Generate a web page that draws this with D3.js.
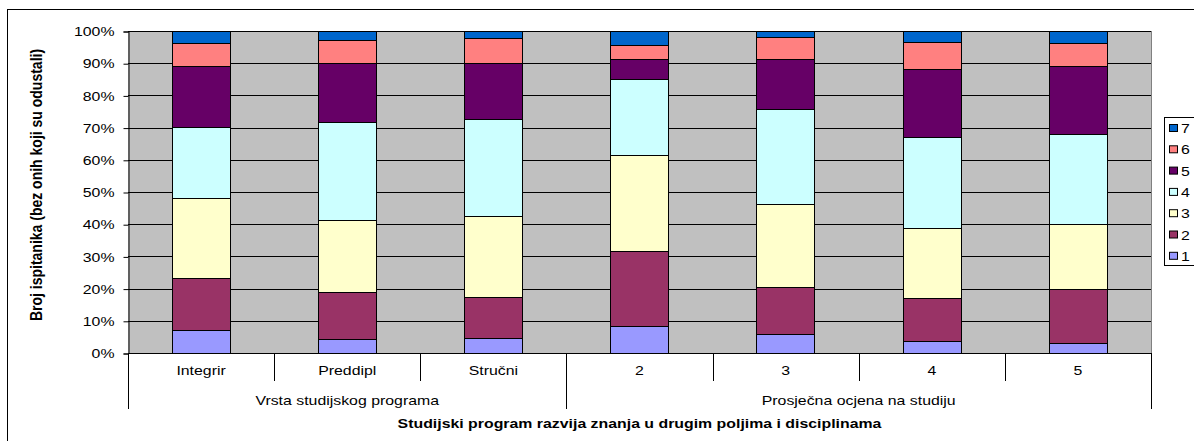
<!DOCTYPE html>
<html>
<head>
<meta charset="utf-8">
<script src="https://cdn.jsdelivr.net/npm/d3@7"></script>
<style>
  body { margin: 0; background: #fff; }
  svg { display: block; font-family: Arial, "Liberation Sans", sans-serif; }
</style>
</head>
<body>
<svg id="chart" width="1194" height="441"></svg>
<script>
const categories = ["Integrir", "Preddipl", "Stručni", "2", "3", "4", "5"];
const groups = [
  { label: "Vrsta studijskog programa", from: 0, to: 3 },
  { label: "Prosječna ocjena na studiju", from: 3, to: 7 }
];
const seriesNames = ["1", "2", "3", "4", "5", "6", "7"];
// percentage values per series, one per category
const s1 = [7.1, 4.2, 4.6, 8.4, 5.8, 3.8, 3.2];
const s2 = [16.1, 14.8, 12.9, 23.3, 14.8, 13.4, 16.8];
const s3 = [24.8, 22.3, 25.1, 29.8, 25.7, 21.6, 20.2];
const s4 = [22.1, 30.3, 30.0, 23.6, 29.4, 28.4, 27.8];
const s5 = [19.0, 18.4, 17.4, 6.3, 15.7, 20.9, 21.2];
const s6 = [7.1, 7.2, 7.7, 4.2, 6.6, 8.4, 7.0];
const s7 = [3.8, 2.8, 2.3, 4.4, 2.0, 3.5, 3.8];
const yTicks = [0, 0.1, 0.2, 0.3, 0.4, 0.5, 0.6, 0.7, 0.8, 0.9, 1.0];
const colors = ["#9999FF", "#993366", "#FFFFCC", "#CCFFFF", "#660066", "#FF8080", "#0066CC"];
const yTitle = "Broj ispitanika (bez onih koji su odustali)";
const xTitle = "Studijski program razvija znanja u drugim poljima i disciplinama";

const seriesData = [s1, s2, s3, s4, s5, s6, s7];
const table = categories.map((c, i) => {
  const row = { cat: c };
  const tot = d3.sum(seriesData, s => s[i]);
  seriesNames.forEach((n, k) => row[n] = seriesData[k][i] / tot);
  return row;
});
const stacked = d3.stack().keys(seriesNames)(table);

const svg = d3.select("#chart");
const pL = 128, pR = 1151, pT = 31, pB = 353;
const SX = 1.22; // horizontal text stretch as in the source rendering
const FS = 13;

function place(sel, fx, fy) {
  sel.attr("transform", (d, i) => `translate(${fx(d, i)},${fy(d, i)}) scale(${SX},1)`);
}

// outer border
svg.append("rect").attr("x", 7.5).attr("y", 9.5).attr("width", 1200).attr("height", 440)
  .attr("fill", "#fff").attr("stroke", "#000").attr("stroke-width", 1);

const x = d3.scaleBand().domain(categories).range([pL, pR]).paddingInner(0).paddingOuter(0);
const y = d3.scaleLinear().domain([0, 1]).range([pB, pT]);

// plot background
svg.append("rect").attr("x", pL).attr("y", pT).attr("width", pR - pL).attr("height", pB - pT)
  .attr("fill", "#C0C0C0");

// gridlines
svg.append("g").selectAll("line").data(yTicks.slice(1)).join("line")
  .attr("x1", pL).attr("x2", pR)
  .attr("y1", d => Math.round(y(d)) + 0.5).attr("y2", d => Math.round(y(d)) + 0.5)
  .attr("stroke", "#000").attr("stroke-width", 1);

// plot border right
svg.append("line").attr("x1", pR + 0.5).attr("x2", pR + 0.5).attr("y1", pT).attr("y2", pB)
  .attr("stroke", "#808080");

// bars
const barW = x.bandwidth() * 0.4;
svg.append("g").selectAll("g").data(stacked).join("g")
  .attr("fill", (d, i) => colors[i])
  .selectAll("rect").data(d => d).join("rect")
  .attr("x", d => Math.round(x(d.data.cat) + (x.bandwidth() - barW) / 2) + 0.5)
  .attr("width", Math.round(barW))
  .attr("y", d => Math.round(y(d[1])) + 0.5)
  .attr("height", d => Math.round(y(d[0])) - Math.round(y(d[1])))
  .attr("stroke", "#000").attr("stroke-width", 1);

// y axis
const yAxis = d3.axisLeft(y).tickValues(yTicks).tickFormat(d3.format(".0%")).tickSize(5).tickPadding(4);
const ya = svg.append("g").attr("transform", `translate(${pL + 0.5},0.5)`).call(yAxis);
ya.select(".domain").attr("stroke", "#000");
ya.selectAll(".tick line").attr("stroke", "#000");
ya.selectAll(".tick text").attr("font-size", FS).attr("fill", "#000")
  .attr("font-family", "Arial, 'Liberation Sans', sans-serif")
  .attr("x", 0).attr("transform", `translate(-14,0) scale(${SX},1)`);

// x axis line
svg.append("line").attr("x1", pL).attr("x2", pR + 1).attr("y1", pB + 0.5).attr("y2", pB + 0.5)
  .attr("stroke", "#000");

// category separators
const boundaries = d3.range(categories.length + 1).map(i => i === categories.length ? pR : x(categories[i]));
const groupBounds = new Set([0, ...groups.map(g => g.to)]);
svg.append("g").selectAll("line").data(boundaries.map((b, i) => ({ b, i }))).join("line")
  .attr("x1", d => Math.round(d.b) + 0.5).attr("x2", d => Math.round(d.b) + 0.5)
  .attr("y1", pB).attr("y2", d => groupBounds.has(d.i) ? 409 : 381)
  .attr("stroke", "#000");

// category labels
svg.append("g").selectAll("text").data(categories).join("text")
  .attr("text-anchor", "middle").attr("font-size", FS).attr("fill", "#000")
  .call(place, d => x(d) + x.bandwidth() / 2, () => 375)
  .text(d => d);

// group labels
svg.append("g").selectAll("text").data(groups).join("text")
  .attr("text-anchor", "middle").attr("font-size", FS).attr("fill", "#000")
  .call(place, d => (boundaries[d.from] + boundaries[d.to]) / 2, () => 405)
  .text(d => d.label);

// x title
svg.append("text").datum(xTitle)
  .attr("text-anchor", "middle").attr("font-size", FS).attr("font-weight", "bold")
  .call(place, () => (pL + pR) / 2, () => 428)
  .text(d => d);

// y title
svg.append("text").attr("transform", `translate(42,${(pT + pB) / 2 - 7}) rotate(-90) scale(1,1.12)`)
  .attr("text-anchor", "middle").attr("font-size", 14).attr("font-weight", "bold")
  .text(yTitle);

// legend
const lg = svg.append("g");
lg.append("rect").attr("x", 1164.5).attr("y", 117.5).attr("width", 60).attr("height", 148)
  .attr("fill", "#fff").attr("stroke", "#000");
const legItems = seriesNames.map((n, i) => ({ n, i })).reverse();
const li = lg.selectAll("g").data(legItems).join("g")
  .attr("transform", (d, k) => `translate(1169,${128 + k * 21.3})`);
li.append("rect").attr("x", 0.5).attr("y", -3.5).attr("width", 8).attr("height", 7)
  .attr("fill", d => colors[d.i]).attr("stroke", "#000");
li.append("text").attr("font-size", FS)
  .attr("transform", `translate(12,5) scale(${SX},1)`).text(d => d.n);
</script>
</body>
</html>
